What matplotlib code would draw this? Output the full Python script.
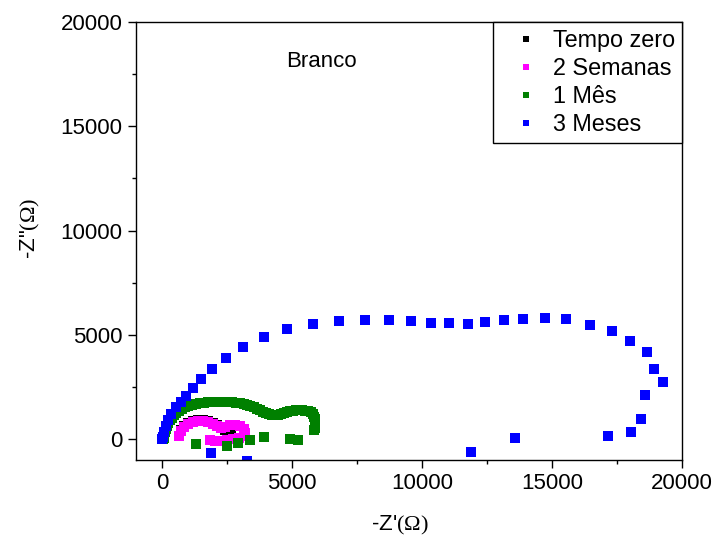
import matplotlib
matplotlib.use("Agg")
import matplotlib.pyplot as plt
from matplotlib.ticker import MultipleLocator

plt.rcParams['font.family'] = ['Liberation Sans', 'DejaVu Sans']
plt.rcParams['mathtext.fontset'] = 'custom'
plt.rcParams['mathtext.rm'] = 'Liberation Serif'

# Tempo zero (mostly hidden under 2 Semanas)
zero_x = [654, 731, 846, 1000, 1192, 1385, 1577, 1769, 1961, 2115, 2269, 2420, 2560, 2654]
zero_y = [150, 420, 620, 770, 870, 920, 920, 870, 780, 680, 570, 440, 310, 200]

# 2 Semanas
sem_x = [654, 731, 846, 1000, 1192, 1385, 1577, 1769, 1961, 2115, 2269, 2423, 2615, 2808,
         3000, 3154, 3192, 3154, 2962, 2731, 2500, 2269, 2038, 1846]
sem_y = [144, 384, 576, 719, 815, 863, 863, 815, 719, 624, 528, 576, 671, 671,
         624, 480, 288, 144, 48, 0, -48, -96, -96, -48]

# 1 Mes
mes_x = [60, 77, 100, 115, 150, 192, 240, 308, 380, 462, 550, 654, 760, 885, 1010, 1154,
         1300, 1461, 1615, 1769, 1920, 2077, 2230, 2385, 2540, 2692, 2850, 3000, 3140,
         3269, 3400, 3538, 3650, 3769, 3880, 4000, 4120, 4231, 4350, 4462, 4580, 4692,
         4810, 4923, 5040, 5154, 5270, 5385, 5500, 5615, 5720, 5808, 5860, 5885, 5890,
         5885, 5870, 5846,
         1308, 2500, 2923, 3385, 3923, 4923, 5231]
mes_y = [0, 48, 190, 336, 480, 624, 770, 911, 1030, 1151, 1250, 1343, 1440, 1535, 1590,
         1631, 1680, 1727, 1755, 1775, 1790, 1799, 1800, 1799, 1790, 1775, 1750, 1727,
         1680, 1631, 1585, 1535, 1465, 1391, 1320, 1247, 1195, 1151, 1140, 1151, 1200,
         1247, 1295, 1343, 1370, 1391, 1400, 1391, 1370, 1343, 1280, 1199, 1080, 959,
         815, 671, 550, 432,
         -240, -336, -192, -48, 96, 0, -48]

# 3 Meses
tri_x = [20, 38, 77, 154, 231, 346, 538, 731, 923, 1192, 1500, 1923, 2461, 3115, 3923,
         4808, 5808, 6808, 7808, 8730, 9577, 10346, 11038, 11769, 12423, 13154, 13885,
         14731, 15538, 16462, 17308, 18000, 18654, 18923, 19269, 18577, 18423, 18038,
         17154, 13577, 11885, 3269, 1885]
tri_y = [0, 96, 336, 624, 911, 1199, 1535, 1775, 2062, 2446, 2878, 3357, 3885, 4412,
         4892, 5276, 5515, 5659, 5707, 5707, 5659, 5563, 5563, 5515, 5611, 5707, 5755,
         5803, 5755, 5467, 5180, 4700, 4172, 3357, 2734, 2110, 959, 336, 144, 48, -623,
         -1055, -671]

fig = plt.figure(figsize=(7.15, 5.37), dpi=100)
ax = fig.add_axes([0.190, 0.1434, 0.764, 0.8156])

ms = 7
ax.plot(zero_x, zero_y, 's', color='#000000', ms=ms, mew=0, label='Tempo zero')
ax.plot(sem_x, sem_y, 's', color='#FF00FF', ms=ms, mew=0, label='2 Semanas')
ax.plot(mes_x, mes_y, 's', color='#008000', ms=ms, mew=0, label='1 Mês')
ax.plot(tri_x, tri_y, 's', color='#0000FF', ms=ms, mew=0, label='3 Meses')

ax.set_xlim(-1000, 20000)
ax.set_ylim(-1000, 20000)
ax.xaxis.set_major_locator(MultipleLocator(5000))
ax.xaxis.set_minor_locator(MultipleLocator(2500))
ax.yaxis.set_major_locator(MultipleLocator(5000))
ax.yaxis.set_minor_locator(MultipleLocator(2500))
ax.tick_params(which='major', direction='out', length=6, width=1, labelsize=16)
ax.tick_params(which='minor', direction='out', length=3, width=1)
for s in ax.spines.values():
    s.set_linewidth(1)

ax.set_xlabel(r"-Z'$\mathrm{(\Omega)}$", fontsize=16)
ax.set_ylabel(r'-Z"$\mathrm{(\Omega)}$', fontsize=16)
ax.xaxis.set_label_coords(0.4835, -0.124)
ax.yaxis.set_label_coords(-0.172, 0.53)

ax.text(0.34, 0.91, 'Branco', transform=ax.transAxes, fontsize=16, ha='center', va='center')

leg = ax.legend(loc='upper right', borderaxespad=0, fontsize=16.8, fancybox=False,
                edgecolor='black', framealpha=1, markerscale=0.6, handletextpad=0.05,
                labelspacing=0.22, borderpad=0.3, handlelength=2.2)
leg.get_frame().set_linewidth(1)

fig.savefig('out.png', dpi=100)
